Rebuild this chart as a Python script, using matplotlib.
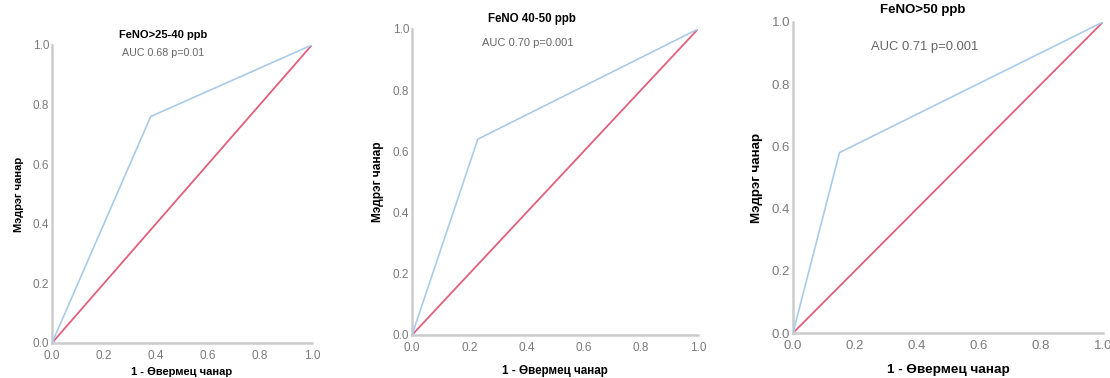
import matplotlib
matplotlib.use("Agg")
import matplotlib.pyplot as plt

# ROC curves
titles = ["FeNO>25-40 ppb", "FeNO 40-50 ppb", "FeNO>50 ppb"]
auc_texts = ["AUC 0.68 p=0.01", "AUC 0.70 p=0.001", "AUC 0.71 p=0.001"]
fpr_1 = [0.0, 0.38, 1.0]
tpr_1 = [0.0, 0.76, 1.0]
fpr_2 = [0.0, 0.23, 1.0]
tpr_2 = [0.0, 0.64, 1.0]
fpr_3 = [0.0, 0.15, 1.0]
tpr_3 = [0.0, 0.58, 1.0]
ref_line = [0.0, 1.0]
ticks = [0.0, 0.2, 0.4, 0.6, 0.8, 1.0]
xlabel = "1 - Өвермец чанар"
ylabel = "Мэдрэг чанар"

fpr = [fpr_1, fpr_2, fpr_3]
tpr = [tpr_1, tpr_2, tpr_3]

# panel boxes in figure fractions
boxes = [[0.0468, 0.0926, 0.2342, 0.7884],
         [0.3712, 0.1138, 0.2577, 0.8095],
         [0.7144, 0.1190, 0.2793, 0.8228]]
title_pos = [(0.427, 1.034), (0.42, 1.033), (0.419, 1.039)]
auc_pos = [(0.427, 0.973), (0.406, 0.954), (0.426, 0.92)]
tick_size = [8.5, 8.5, 9.5]
title_size = [8, 8.3, 9.5]
auc_size = [7.7, 8, 9.4]
xlab_size = [8, 8.4, 9.7]
ylab_size = [8, 8.6, 9.6]
xpad = [4, 8, 9]

plt.rcParams['font.family'] = ['Liberation Sans', 'DejaVu Sans']
fig = plt.figure(figsize=(11.1, 3.78), dpi=100)

for i in range(3):
    ax = fig.add_axes(boxes[i])
    ax.plot(fpr[i], tpr[i], color="#a9cbe9", lw=1.2, zorder=3)
    ax.plot(ref_line, ref_line, color="#e0607c", lw=1.3, zorder=2)
    ax.set_xlim(0, 1)
    ax.set_ylim(0, 1)
    ax.set_xticks(ticks)
    ax.set_yticks(ticks)
    ax.set_xticklabels([f"{t:.1f}" for t in ticks])
    ax.set_yticklabels([f"{t:.1f}" for t in ticks])
    ax.tick_params(length=0, labelsize=tick_size[i], labelcolor="#7a7a7a")
    ax.tick_params(axis="x", pad=5)
    ax.tick_params(axis="y", pad=2)
    for s in ["top", "right"]:
        ax.spines[s].set_visible(False)
    for s in ["left", "bottom"]:
        ax.spines[s].set_color("#cccccc")
        ax.spines[s].set_linewidth(1.8)
    ax.set_xlabel(xlabel, fontsize=xlab_size[i], fontweight="bold", labelpad=xpad[i])
    ax.set_ylabel(ylabel, fontsize=ylab_size[i], fontweight="bold", labelpad=6)
    ax.text(title_pos[i][0], title_pos[i][1], titles[i], transform=ax.transAxes,
            ha="center", va="center", fontsize=title_size[i], fontweight="bold")
    ax.text(auc_pos[i][0], auc_pos[i][1], auc_texts[i], transform=ax.transAxes,
            ha="center", va="center", fontsize=auc_size[i], color="#666666")

fig.savefig("out.png", dpi=100, facecolor="white")
